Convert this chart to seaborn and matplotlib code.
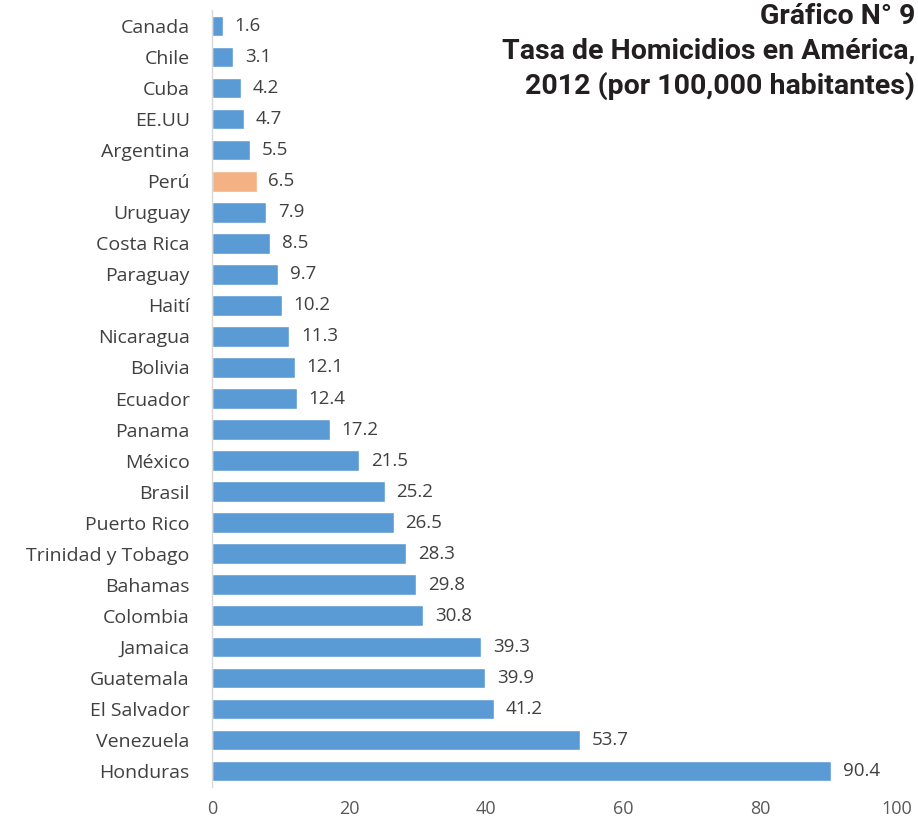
import matplotlib
matplotlib.use("Agg")
import matplotlib.pyplot as plt
import seaborn as sns
import pandas as pd

countries = ["Canada", "Chile", "Cuba", "EE.UU", "Argentina", "Perú", "Uruguay",
             "Costa Rica", "Paraguay", "Haití", "Nicaragua", "Bolivia", "Ecuador",
             "Panama", "México", "Brasil", "Puerto Rico", "Trinidad y Tobago",
             "Bahamas", "Colombia", "Jamaica", "Guatemala", "El Salvador",
             "Venezuela", "Honduras"]
rates = [1.6, 3.1, 4.2, 4.7, 5.5, 6.5, 7.9, 8.5, 9.7, 10.2, 11.3, 12.1, 12.4,
         17.2, 21.5, 25.2, 26.5, 28.3, 29.8, 30.8, 39.3, 39.9, 41.2, 53.7, 90.4]
highlight = "Perú"
x_ticks = [0, 20, 40, 60, 80, 100]
title_lines = ["Gráfico N° 9", "Tasa de Homicidios en América,", "2012 (por 100,000 habitantes)"]

sns.set_theme(style="white")
plt.rcParams['font.family'] = ['Open Sans', 'DejaVu Sans']

df = pd.DataFrame({"pais": countries, "tasa": rates})
df["grupo"] = ["hl" if c == highlight else "base" for c in countries]

fig = plt.figure(figsize=(9.18, 8.22), dpi=100)
ax = fig.add_axes([212/918, 1 - 787/822, (897-212)/918, (787-10)/822])

sns.barplot(data=df, y="pais", x="tasa", hue="grupo", orient="h",
            palette={"base": "#5B9BD5", "hl": "#F4B183"}, dodge=False,
            saturation=1, width=0.66, legend=False, ax=ax)

for i, v in enumerate(rates):
    ax.annotate(f"{v}", xy=(v, i), xytext=(8.5, 0), textcoords="offset points",
                va="center", ha="left", fontsize=13.5, color="#404040")

ax.set_xlim(0, 100)
ax.set_ylim(24.52, -0.52)
ax.set_xticks(x_ticks)
ax.set_xticklabels([str(t) for t in x_ticks], fontsize=13, color="#595959")
ax.tick_params(axis="x", length=0, pad=9)
ax.tick_params(axis="y", length=0, pad=16, labelsize=14, labelcolor="#404040")
ax.set_xlabel("")
ax.set_ylabel("")
for s in ["top", "right", "bottom"]:
    ax.spines[s].set_visible(False)
ax.spines["left"].set_color("#D9D9D9")
ax.spines["left"].set_linewidth(1)

for k, line in enumerate(title_lines):
    fig.text(915/918, 1 - (16 + 35*k)/822, line, ha="right", va="center",
             fontsize=20.5, fontweight="bold", family=["Roboto", "DejaVu Sans"],
             color="#231F20")

fig.savefig("out.png", dpi=100)
